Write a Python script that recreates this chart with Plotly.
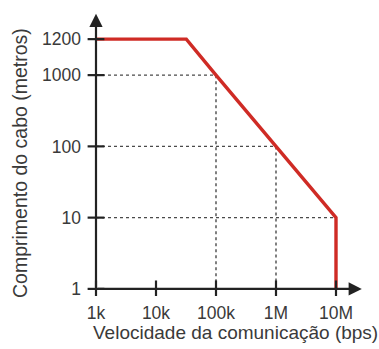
import math
import plotly.graph_objects as go

# Cable length vs. communication speed (log-log, with a stretched top band for 1200 m)
speed_bps = [1e3, 3.2e4, 1e5, 1e6, 1e7, 1e7]
length_m = [1200, 1200, 1000, 100, 10, 1]

x_tick_vals = [1e3, 1e4, 1e5, 1e6, 1e7]
x_tick_text = ["1k", "10k", "100k", "1M", "10M"]
y_tick_vals = [1, 10, 100, 1000, 1200]
y_tick_text = ["1", "10", "100", "1000", "1200"]

# guide lines dropped from points of the curve
guide_pts = [(1e5, 1000), (1e6, 100), (1e7, 10)]


def yscale(v):
    """Log scale up to 1000 m, then a stretched band up to 1200 m."""
    if v <= 1000:
        return math.log10(v)
    return 3 + (v - 1000) / 200 * 0.505


RED = "#cf2b25"
INK = "#222222"
TXT = "#3a3a3a"
FONT = "Liberation Sans, Arial, sans-serif"

fig = go.Figure()

# dotted guides
for gx, gy in guide_pts:
    fig.add_trace(go.Scatter(
        x=[1e3, gx, gx], y=[yscale(gy), yscale(gy), yscale(1)],
        mode="lines", line=dict(color="#4a4a4a", width=1.4, dash="dot"),
        hoverinfo="skip", showlegend=False))

# the curve
fig.add_trace(go.Scatter(
    x=speed_bps, y=[yscale(v) for v in length_m],
    mode="lines", line=dict(color=RED, width=3.4),
    showlegend=False))

# axes with arrows
x0 = math.log10(1e3)
fig.add_annotation(x=7.43, y=0, ax=x0, ay=0, xref="x", yref="y", axref="x", ayref="y",
                   showarrow=True, arrowhead=2, arrowsize=1.2, arrowwidth=2.2,
                   arrowcolor=INK, text="")
fig.add_annotation(x=x0, y=3.86, ax=x0, ay=0, xref="x", yref="y", axref="x", ayref="y",
                   showarrow=True, arrowhead=2, arrowsize=1.2, arrowwidth=2.2,
                   arrowcolor=INK, text="")

# crossing tick marks
fig.add_trace(go.Scatter(
    x=x_tick_vals, y=[0] * len(x_tick_vals), mode="markers",
    marker=dict(symbol="line-ns", size=12, line=dict(color=INK, width=2.2)),
    hoverinfo="skip", showlegend=False))
fig.add_trace(go.Scatter(
    x=[1e3] * len(y_tick_vals), y=[yscale(v) for v in y_tick_vals], mode="markers",
    marker=dict(symbol="line-ew", size=12, line=dict(color=INK, width=2.2)),
    hoverinfo="skip", showlegend=False))

# axis titles
fig.add_annotation(text="Velocidade da comunicação (bps)", xref="paper", yref="paper",
                   x=(235 - 84) / 279, y=-(332 - 296) / 285, xanchor="center", yanchor="middle",
                   showarrow=False, font=dict(size=19, color=TXT))
fig.add_annotation(text="Comprimento do cabo (metros)", xref="paper", yref="paper",
                   x=-(84 - 20) / 279, y=(296 - 163) / 285, xanchor="center", yanchor="middle",
                   textangle=-90, showarrow=False, font=dict(size=19.5, color=TXT))

fig.update_layout(
    width=379, height=349,
    margin=dict(l=84, r=16, t=11, b=53),
    plot_bgcolor="white", paper_bgcolor="white",
    font=dict(family=FONT, size=17.5, color=TXT),
    xaxis=dict(type="log", range=[2.8, 7.45], showgrid=False, zeroline=False,
               showline=False, tickvals=x_tick_vals, ticktext=x_tick_text,
               ticks="", ticklabelstandoff=4),
    yaxis=dict(range=[-0.1, 3.9], showgrid=False, zeroline=False, showline=False,
               tickvals=[yscale(v) for v in y_tick_vals], ticktext=y_tick_text,
               ticks="", ticklabelstandoff=2),
)

fig.write_html("out.html")
